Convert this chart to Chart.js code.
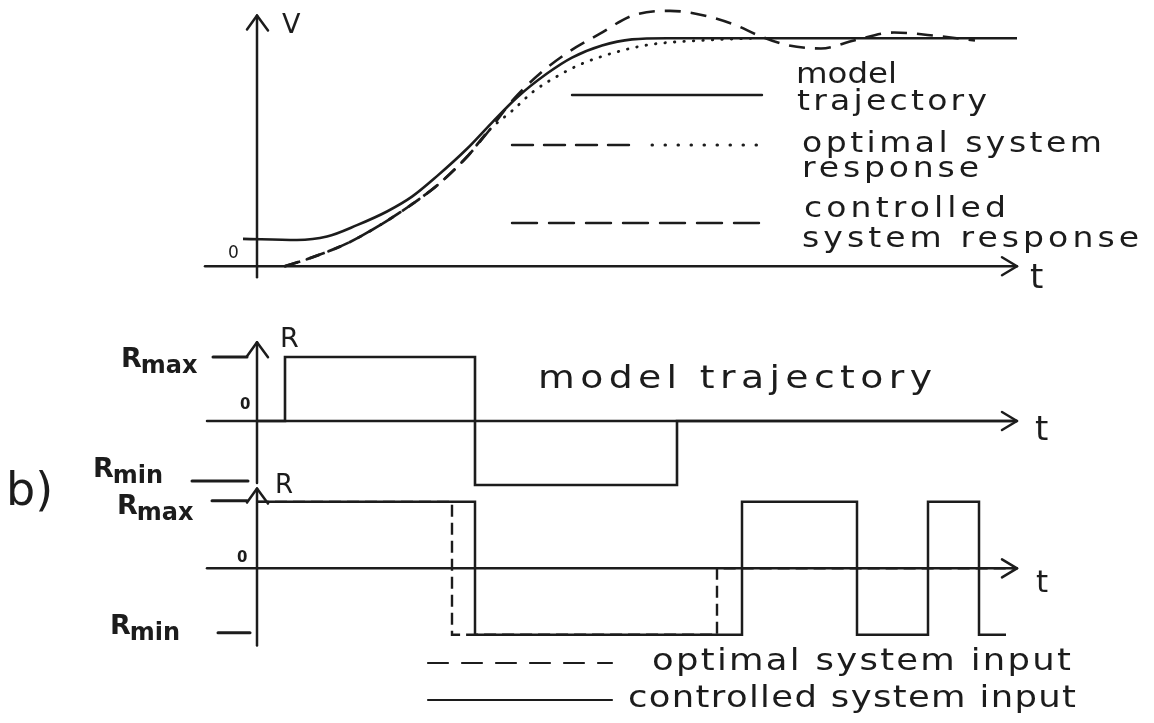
<!DOCTYPE html>
<html>
<head>
<meta charset="utf-8">
<title>Model trajectory and system response</title>
<script src="https://cdn.jsdelivr.net/npm/chart.js@4.4.0/dist/chart.umd.min.js"></script>
<style>
  html, body { margin: 0; padding: 0; background: #fff; }
  #wrap { position: relative; width: 1154px; height: 723px; overflow: hidden; background: #fff; }
  #wrap canvas { position: absolute; left: 0; }
</style>
</head>
<body>
<div id="wrap">
  <canvas id="responseChart" width="1154" height="300" style="top:0"></canvas>
  <canvas id="modelInputChart" width="1154" height="200" style="top:300px"></canvas>
  <canvas id="systemInputChart" width="1154" height="283" style="top:440px"></canvas>
</div>
<script>
// shared time axis
const T_MIN = -0.5, T_MAX = 7.6;
const R_MAX = 1, R_MIN = -1;

// a) output V(t)
const modelT = [-0.14, 0.4, 0.7, 1.0, 1.3, 1.55, 1.8, 2.1, 2.35, 2.6, 2.9, 3.15, 3.45, 3.75, 4.1, 7.6];
const modelV = [0.12, 0.115, 0.13, 0.18, 0.24, 0.305, 0.395, 0.515, 0.63, 0.74, 0.845, 0.915, 0.968, 0.995, 1.0, 1.0];

const optimalT = [0.28, 0.56, 0.9, 1.23, 1.56, 1.83, 2.1, 2.33, 2.56, 2.76, 3.03, 3.26, 3.6, 3.93, 4.43, 4.97];
const optimalV = [0, 0.04, 0.1, 0.18, 0.275, 0.365, 0.48, 0.6, 0.685, 0.765, 0.84, 0.89, 0.94, 0.972, 0.99, 1.0];
const OPTIMAL_DOTS_FROM = 2.33;   // optimal response is drawn dotted from here on

const controlledT = [0.28, 0.56, 0.9, 1.23, 1.56, 1.83, 2.1, 2.33, 2.56, 2.83, 3.1, 3.43, 3.76, 4.13, 4.47, 4.8, 5.0, 5.3, 5.64, 5.97, 6.37, 6.8, 7.18];
const controlledV = [0, 0.04, 0.1, 0.18, 0.275, 0.365, 0.48, 0.6, 0.73, 0.845, 0.935, 1.02, 1.1, 1.12, 1.1, 1.055, 1.015, 0.97, 0.955, 0.99, 1.025, 1.01, 0.99];

// b) inputs R(t), switching instants and the level that follows
const modelInputT = [0, 0.28, 2.18, 4.2, 7.6];
const modelInputR = [0, R_MAX, R_MIN, 0, 0];

const optimalInputT = [0, 1.95, 4.6, 7.6];
const optimalInputR = [R_MAX, R_MIN, 0, 0];

const controlledInputT = [0, 2.18, 4.85, 6.0, 6.71, 7.22, 7.49];
const controlledInputR = [R_MAX, R_MIN, R_MAX, R_MIN, R_MAX, R_MIN, R_MIN];

const INK = '#1c1c1c';
const FONT = '"DejaVu Sans", sans-serif';

const pts = (xs, ys) => xs.map((x, i) => ({ x, y: ys[i] }));

function seg(ctx, x1, y1, x2, y2, dash) {
  ctx.save();
  ctx.setLineDash(dash || []);
  ctx.beginPath();
  ctx.moveTo(x1, y1);
  ctx.lineTo(x2, y2);
  ctx.stroke();
  ctx.restore();
}

function arrowRight(ctx, x, y) {
  ctx.beginPath();
  ctx.moveTo(x - 15, y - 9);
  ctx.lineTo(x, y);
  ctx.lineTo(x - 15, y + 9);
  ctx.stroke();
}

function arrowUp(ctx, x, y) {
  ctx.beginPath();
  ctx.moveTo(x - 10, y + 14);
  ctx.lineTo(x, y);
  ctx.lineTo(x + 11, y + 15);
  ctx.stroke();
}

// wide lettering: glyphs stretched a little, spacing fills the rest of the width
function label(ctx, text, x, y, size, width, weight) {
  ctx.save();
  ctx.font = `${weight || 'normal'} ${size}px ${FONT}`;
  ctx.fillStyle = INK;
  ctx.textAlign = 'left';
  ctx.textBaseline = 'alphabetic';
  let sx = 1;
  if (width && text.length > 1) {
    const natural = ctx.measureText(text).width;
    sx = Math.min(1.18, width / natural);
    const gap = (width / sx - natural) / (text.length - 1);
    ctx.letterSpacing = Math.max(0, gap).toFixed(2) + 'px';
  }
  ctx.translate(x, y);
  ctx.scale(sx, 1);
  ctx.fillText(text, 0, 0);
  ctx.restore();
}

// R with a lowered "max"/"min"
function levelLabel(ctx, sub, x, y) {
  ctx.save();
  ctx.fillStyle = INK;
  ctx.font = `bold 27px ${FONT}`;
  ctx.fillText('R', x, y);
  const w = ctx.measureText('R').width;
  ctx.font = `bold 24px ${FONT}`;
  ctx.fillText(sub, x + w - 1, y + 6);
  ctx.restore();
}

function axisStyle(ctx) {
  ctx.strokeStyle = INK;
  ctx.lineWidth = 2.5;
  ctx.lineCap = 'round';
  ctx.lineJoin = 'round';
}

function baseOptions(yMin, yMax, padding) {
  return {
    responsive: false,
    animation: false,
    devicePixelRatio: 1,
    events: [],
    layout: { padding },
    plugins: { legend: { display: false }, tooltip: { enabled: false } },
    elements: { point: { radius: 0 } },
    scales: {
      x: { type: 'linear', min: T_MIN, max: T_MAX, display: false },
      y: { type: 'linear', min: yMin, max: yMax, display: false }
    }
  };
}

// a) V(t) axes and legend
const responseDecor = {
  id: 'responseDecor',
  afterDraw(chart) {
    const { ctx, scales: { x, y } } = chart;
    const x0 = x.getPixelForValue(0), y0 = y.getPixelForValue(0);
    const xEnd = x.getPixelForValue(T_MAX);
    ctx.save();
    axisStyle(ctx);
    seg(ctx, x.getPixelForValue(T_MIN) - 2, y0, xEnd, y0);
    arrowRight(ctx, xEnd, y0);
    const yTop = y.getPixelForValue(1.1);
    seg(ctx, x0, y0 + 11, x0, yTop);
    arrowUp(ctx, x0, yTop);

    // legend samples
    ctx.lineWidth = 2.4;
    seg(ctx, 572, 95, 762, 95);
    seg(ctx, 512, 145, 640, 145, [21, 11]);
    ctx.lineWidth = 3;
    seg(ctx, 652, 145, 762, 145, [0.5, 12.5]);
    ctx.lineWidth = 2.4;
    seg(ctx, 512, 223, 762, 223, [25, 12]);
    ctx.restore();

    label(ctx, 'V', 282, 33, 27);
    label(ctx, 't', 1030, 288, 34);
    label(ctx, '0', 228, 258, 17);

    label(ctx, 'model', 796, 83, 28, 101);
    label(ctx, 'trajectory', 797, 110, 28, 190);
    label(ctx, 'optimal system', 802, 152, 28, 300);
    label(ctx, 'response', 802, 177, 28, 177);
    label(ctx, 'controlled', 804, 217, 28, 202);
    label(ctx, 'system response', 802, 247, 28, 337);
  }
};

new Chart(document.getElementById('responseChart'), {
  type: 'line',
  data: {
    datasets: [
      {
        label: 'model trajectory',
        data: pts(modelT, modelV),
        borderColor: INK,
        borderWidth: 2.6,
        cubicInterpolationMode: 'monotone',
        clip: false
      },
      {
        label: 'optimal system response',
        data: pts(optimalT, optimalV),
        borderColor: INK,
        borderWidth: 2.8,
        borderCapStyle: 'round',
        cubicInterpolationMode: 'monotone',
        clip: false,
        segment: {
          borderDash: c => c.p0.parsed.x >= OPTIMAL_DOTS_FROM - 1e-9 ? [0.5, 9] : [13, 10]
        }
      },
      {
        label: 'controlled system response',
        data: pts(controlledT, controlledV),
        borderColor: INK,
        borderWidth: 2.6,
        borderDash: [16, 10],
        cubicInterpolationMode: 'monotone',
        clip: false
      }
    ]
  },
  options: baseOptions(-0.1, 1.15, { left: 207, right: 137, top: 4, bottom: 11 }),
  plugins: [responseDecor]
});

// b) model trajectory input
const modelInputDecor = {
  id: 'modelInputDecor',
  afterDraw(chart) {
    const { ctx, scales: { x, y } } = chart;
    const x0 = x.getPixelForValue(0), y0 = y.getPixelForValue(0);
    const xEnd = x.getPixelForValue(T_MAX);
    const yMax = y.getPixelForValue(R_MAX), yMin = y.getPixelForValue(R_MIN);
    ctx.save();
    axisStyle(ctx);
    seg(ctx, x.getPixelForValue(T_MIN), y0, xEnd, y0);
    arrowRight(ctx, xEnd, y0);
    const yTop = y.getPixelForValue(1.23);
    seg(ctx, x0, yMin - 2, x0, yTop);
    arrowUp(ctx, x0, yTop);
    ctx.lineWidth = 3;
    seg(ctx, 213, yMax, 247, yMax);
    seg(ctx, 192, yMin - 4, 248, yMin - 4);
    ctx.restore();

    levelLabel(ctx, 'max', 121, yMax + 10);
    levelLabel(ctx, 'min', 93, yMin - 8);
    label(ctx, 'R', 280, yMax - 10, 27);
    label(ctx, '0', 240, y0 - 12, 15, 0, 'bold');
    label(ctx, 't', 1035, y0 + 19, 34);
    label(ctx, 'model trajectory', 538, y0 - 33, 32, 394);
  }
};

new Chart(document.getElementById('modelInputChart'), {
  type: 'line',
  data: {
    datasets: [{
      label: 'model trajectory',
      data: pts(modelInputT, modelInputR),
      borderColor: INK,
      borderWidth: 2.6,
      stepped: 'before',
      clip: false
    }]
  },
  options: baseOptions(-1.1, 1.5, { left: 207, right: 137, top: 25, bottom: 8.6 }),
  plugins: [modelInputDecor]
});

// b) optimal and controlled system inputs
const systemInputDecor = {
  id: 'systemInputDecor',
  afterDraw(chart) {
    const { ctx, scales: { x, y } } = chart;
    const x0 = x.getPixelForValue(0), y0 = y.getPixelForValue(0);
    const xEnd = x.getPixelForValue(T_MAX);
    const yMax = y.getPixelForValue(R_MAX), yMin = y.getPixelForValue(R_MIN);
    ctx.save();
    axisStyle(ctx);
    seg(ctx, x.getPixelForValue(T_MIN), y0, xEnd, y0);
    arrowRight(ctx, xEnd, y0);
    const yTop = y.getPixelForValue(1.2);
    seg(ctx, x0, y.getPixelForValue(-1.16), x0, yTop);
    arrowUp(ctx, x0, yTop);
    ctx.lineWidth = 3;
    seg(ctx, 212, yMax - 1, 247, yMax - 1);
    seg(ctx, 218, yMin - 2, 250, yMin - 2);

    // legend samples
    ctx.lineWidth = 2.2;
    seg(ctx, 428, 223, 612, 223, [20, 14]);
    seg(ctx, 428, 260, 612, 260);
    ctx.restore();

    levelLabel(ctx, 'max', 117, yMax + 12);
    levelLabel(ctx, 'min', 110, yMin - 1);
    label(ctx, 'R', 275, yMax - 9, 26);
    label(ctx, '0', 237, y0 - 6, 15, 0, 'bold');
    label(ctx, 't', 1036, y0 + 24, 31);
    label(ctx, 'b)', 6, 65, 46);

    label(ctx, 'optimal system input', 652, 230, 30, 419);
    label(ctx, 'controlled system input', 628, 267, 30, 448);
  }
};

new Chart(document.getElementById('systemInputChart'), {
  type: 'line',
  data: {
    datasets: [
      {
        label: 'optimal system input',
        data: pts(optimalInputT, optimalInputR),
        borderColor: INK,
        borderWidth: 2.4,
        borderDash: [12, 6],
        stepped: 'before',
        clip: false
      },
      {
        label: 'controlled system input',
        data: pts(controlledInputT, controlledInputR),
        borderColor: INK,
        borderWidth: 2.5,
        stepped: 'before',
        clip: false
      }
    ]
  },
  options: baseOptions(-1.5, 1.6, { left: 207, right: 137, top: 22, bottom: 55 }),
  plugins: [systemInputDecor]
});
</script>
</body>
</html>
